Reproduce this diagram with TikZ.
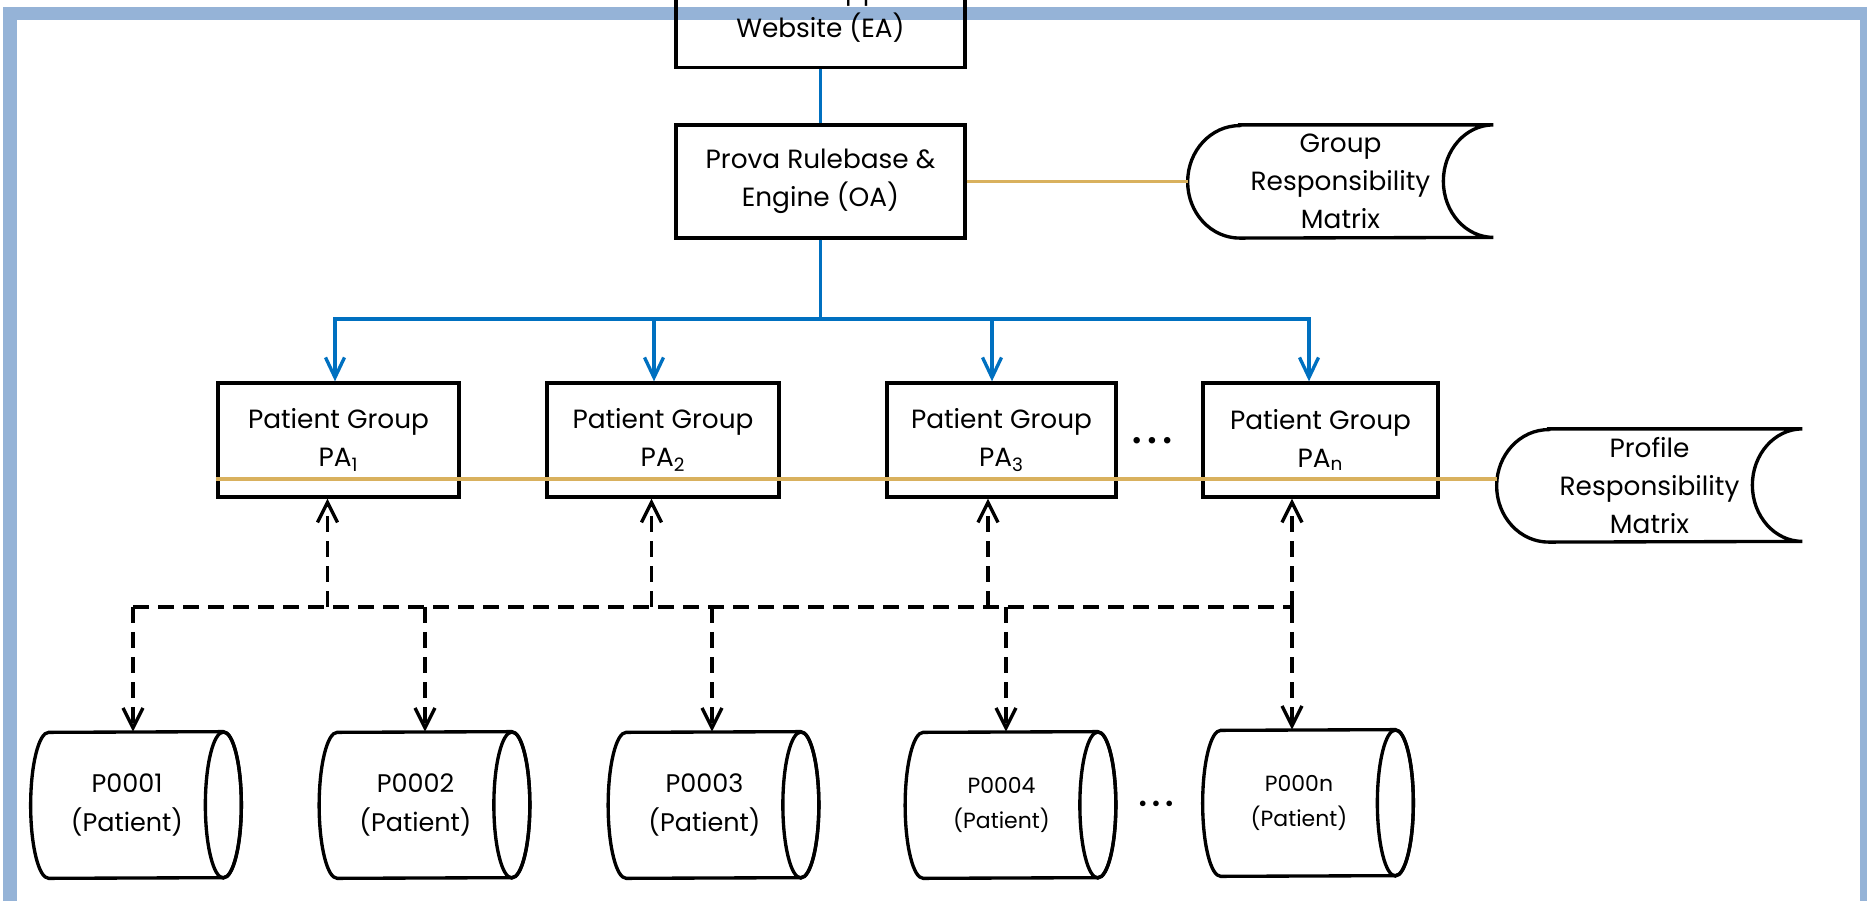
\documentclass[tikz,border=0pt]{standalone}
\usepackage{fontspec}
\setmainfont{Poppins}
\usepackage{tikz}
\usetikzlibrary{positioning}
\usetikzlibrary{shapes.geometric}
\usetikzlibrary{calc}
\usetikzlibrary{arrows.meta}
\usepackage{xcolor}
\definecolor{framecol}{HTML}{95B3D7}
\definecolor{linkblue}{HTML}{0070C0}
\definecolor{matgold}{HTML}{D9B15E}

\begin{document}
\begin{tikzpicture}[x=0.2mm,y=-0.2mm,
        box/.style={draw,line width=1.9pt,align=center,inner sep=0pt,font=\fontsize{15}{21.5}\selectfont},
        agent/.style={box,minimum width=57.8mm,minimum height=22.6mm},
        group/.style={box,minimum height=22.8mm},
        store/.style={align=center,inner sep=0pt,minimum width=61mm,minimum height=22.5mm,font=\fontsize{15}{21.5}\selectfont},
        patient/.style={align=center,inner sep=0pt,minimum width=38.4mm,minimum height=29.2mm},
        outline/.style={line width=1.9pt},
        blueline/.style={linkblue,line width=1.9pt},
        bluearrow/.style={blueline,-{Straight Barb[length=4mm,width=3.8mm]}},
        dashline/.style={line width=1.9pt,dash pattern=on 3.2mm off 1.8mm},
        dasharrow/.style={dashline,-{Straight Barb[length=4mm,width=4mm]}},
        goldline/.style={matgold,line width=2.1pt}]
        \useasboundingbox (0,0) rectangle (1867,901);
        \draw[framecol,line width=2.7mm] (10,960) -- (10,13.5) -- (1867,13.5) -- (1867,960);

        \node[agent] (web) at (820.5,11) {Web App\\Website (EA)};
        \node[agent] (prova) at (820.5,181.5) {Prova Rulebase \&\\Engine (OA)};
        \node[store] (grm) at (1340.5,181.5) {Group\\Responsibility\\Matrix};
        \node[store] (prm) at (1649.5,485.5) {Profile\\Responsibility\\Matrix};
        \foreach \s in {grm,prm}
        {
            \draw[outline] ([xshift=10.4mm]\s.north west) -- (\s.north east)
                arc[start angle=90,end angle=270,x radius=10mm,y radius=11.25mm]
                -- ([xshift=10.4mm]\s.south west)
                arc[start angle=270,end angle=90,x radius=10.4mm,y radius=11.25mm] -- cycle;
        }

        \foreach \n/\x/\w in {1/338.5/48.2, 2/663/46.4, 3/1001.5/45.8, n/1320.5/47}
            \node[group,minimum width=\w mm] (pa\n) at (\x,440) {Patient Group\\PA\textsubscript{\n}};
        \node[font=\fontsize{15}{18}\selectfont] (gdots) at (1152,443) {\textbullet\,\textbullet\,\textbullet};

        \foreach \n/\x/\y/\t/\f/\b in {1/127/805/P0001/14.5/22.7, 2/415.5/805/P0002/14.5/22.7, 3/704.5/805/P0003/14.5/22.7, 4/1001.5/805/P0004/12.5/20.4, n/1299/803/P000n/12.5/20.4}
        {
            \node[patient,font=\fontsize{\f}{\b}\selectfont] (p\n) at (\x,\y) {\t\\(Patient)};
            \draw[outline] ([xshift=3.6mm]p\n.south west)
                arc[start angle=270,end angle=90,x radius=3.6mm,y radius=14.6mm]
                -- (p\n.north east)
                arc[start angle=90,end angle=-90,x radius=3.6mm,y radius=14.6mm] -- cycle;
            \draw[outline] (p\n.east) ellipse[x radius=3.6mm,y radius=14.6mm];
        }
        \node[font=\fontsize{13}{16}\selectfont] (pdots) at (1156,806) {\textbullet\,\textbullet\,\textbullet};

        % control links
        \draw[blueline] (web.south) -- (prova.north);
        \coordinate (fork) at (820.5,319);
        \draw[blueline] (prova.south) -- (fork);
        \foreach \n/\d in {1/-0.7, 2/-1.8, 3/-1.9, n/-2.3}
            \draw[bluearrow] (fork) -| ([xshift=\d mm]pa\n.north);

        % responsibility matrices
        \draw[goldline] (prova.east) -- (grm.west);
        \draw[goldline] ([yshift=-7.8mm]pa1.west) -- ([yshift=-7.8mm]pa1.west -| prm.west);

        % patient links
        \coordinate (dbus) at (0,607);
        \draw[dashline] ([xshift=1.2mm]dbus -| p1.north) -- ([xshift=-5.7mm]pan.south |- dbus);
        \foreach \n/\d in {1/-2.2, 2/-2.3, 3/-2.7, n/-5.7}
            \draw[dasharrow] ([xshift=\d mm]pa\n.south |- dbus) -- ([xshift=\d mm]pa\n.south);
        \foreach \n/\d in {1/1.2, 2/1.9, 3/1.5, 4/0.9}
            \draw[dasharrow] ([xshift=\d mm]dbus -| p\n.north) -- ([xshift=\d mm]p\n.north);
        \draw[dasharrow] ([xshift=-5.7mm]pan.south |- dbus) -- ([xshift=-5.7mm]pan.south |- pn.north);
    \end{tikzpicture}
\end{document}
